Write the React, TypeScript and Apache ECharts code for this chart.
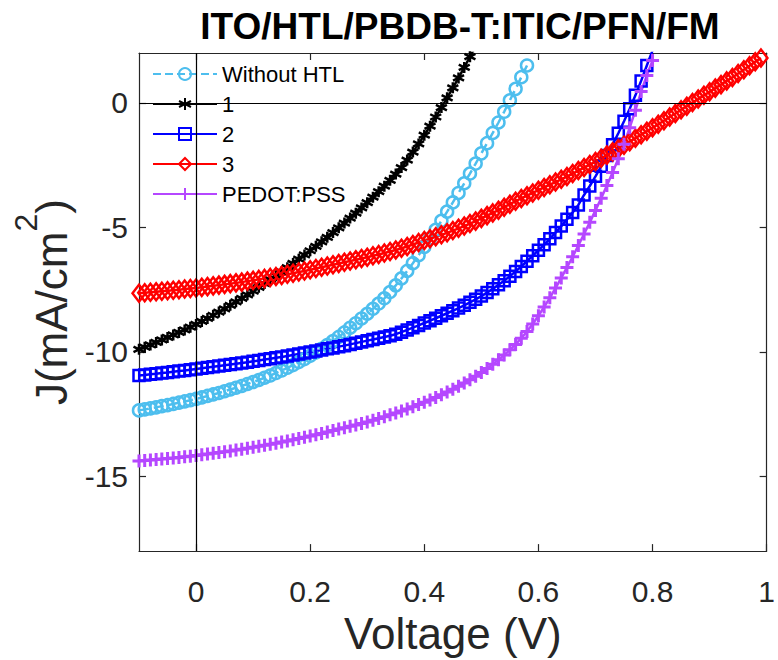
import React, { useEffect, useRef } from "react";
import * as echarts from "echarts";

// Voltage sweep (V)
const VOLTAGE = [
  -0.1, -0.09, -0.08, -0.07, -0.06, -0.05, -0.04, -0.03, -0.02, -0.01,
  0.0, 0.01, 0.02, 0.03, 0.04, 0.05, 0.06, 0.07, 0.08, 0.09,
  0.1, 0.11, 0.12, 0.13, 0.14, 0.15, 0.16, 0.17, 0.18, 0.19,
  0.2, 0.21, 0.22, 0.23, 0.24, 0.25, 0.26, 0.27, 0.28, 0.29,
  0.3, 0.31, 0.32, 0.33, 0.34, 0.35, 0.36, 0.37, 0.38, 0.39,
  0.4, 0.41, 0.42, 0.43, 0.44, 0.45, 0.46, 0.47, 0.48, 0.49,
  0.5, 0.51, 0.52, 0.53, 0.54, 0.55, 0.56, 0.57, 0.58, 0.59,
  0.6, 0.61, 0.62, 0.63, 0.64, 0.65, 0.66, 0.67, 0.68, 0.69,
  0.7, 0.71, 0.72, 0.73, 0.74, 0.75, 0.76, 0.77, 0.78, 0.79,
  0.8, 0.81, 0.82, 0.83, 0.84, 0.85, 0.86, 0.87, 0.88, 0.89,
  0.9, 0.91, 0.92, 0.93, 0.94, 0.95, 0.96, 0.97, 0.98, 0.99,
  1.0,
];

// Current density J (mA/cm^2), one value per voltage step
const J_WITHOUT_HTL = [
  -12.35, -12.31, -12.27, -12.23, -12.18, -12.14, -12.09, -12.04, -11.99, -11.94,
  -11.89, -11.83, -11.77, -11.71, -11.65, -11.58, -11.51, -11.44, -11.37, -11.29,
  -11.21, -11.13, -11.04, -10.95, -10.85, -10.75, -10.64, -10.53, -10.41, -10.29,
  -10.16, -10.02, -9.88, -9.73, -9.57, -9.4, -9.22, -9.03, -8.85, -8.66,
  -8.47, -8.27, -8.06, -7.85, -7.6, -7.33, -7.05, -6.75, -6.44, -6.12,
  -5.79, -5.45, -5.1, -4.74, -4.37, -4.0, -3.62, -3.23, -2.84, -2.44,
  -2.03, -1.62, -1.21, -0.79, -0.36, 0.1, 0.56, 1.03, 1.5,
];

const J_1 = [
  -9.9, -9.81, -9.72, -9.62, -9.52, -9.42, -9.32, -9.22, -9.12, -9.01,
  -8.9, -8.78, -8.66, -8.53, -8.4, -8.27, -8.13, -7.99, -7.85, -7.71,
  -7.56, -7.41, -7.26, -7.1, -6.94, -6.78, -6.62, -6.45, -6.28, -6.11,
  -5.94, -5.76, -5.58, -5.4, -5.21, -5.02, -4.83, -4.63, -4.43, -4.22,
  -4.01, -3.79, -3.57, -3.35, -3.11, -2.86, -2.6, -2.3, -1.98, -1.65,
  -1.3, -0.94, -0.57, -0.19, 0.2, 0.6, 1.0, 1.42, 1.85, 2.28,
];

const J_2 = [
  -10.95, -10.93, -10.9, -10.88, -10.85, -10.83, -10.8, -10.77, -10.75, -10.72,
  -10.69, -10.66, -10.63, -10.6, -10.57, -10.54, -10.51, -10.48, -10.45, -10.42,
  -10.38, -10.35, -10.31, -10.28, -10.24, -10.21, -10.17, -10.13, -10.09, -10.05,
  -10.01, -9.97, -9.93, -9.88, -9.84, -9.79, -9.75, -9.7, -9.65, -9.6,
  -9.55, -9.5, -9.45, -9.4, -9.35, -9.29, -9.21, -9.12, -9.03, -8.94,
  -8.84, -8.75, -8.65, -8.55, -8.45, -8.35, -8.24, -8.13, -8.01, -7.89,
  -7.76, -7.62, -7.47, -7.31, -7.14, -6.96, -6.77, -6.57, -6.36, -6.14,
  -5.92, -5.7, -5.46, -5.21, -4.95, -4.68, -4.4, -4.1, -3.7, -3.34,
  -2.95, -2.55, -2.12, -1.68, -1.22, -0.74, -0.24, 0.3, 0.88, 1.5,
  2.1,
];

const J_3 = [
  -7.65, -7.63, -7.61, -7.59, -7.57, -7.55, -7.53, -7.51, -7.48, -7.46,
  -7.44, -7.41, -7.38, -7.35, -7.32, -7.29, -7.26, -7.23, -7.2, -7.16,
  -7.13, -7.09, -7.05, -7.01, -6.97, -6.93, -6.88, -6.84, -6.79, -6.75,
  -6.7, -6.65, -6.6, -6.55, -6.5, -6.45, -6.4, -6.35, -6.3, -6.25,
  -6.2, -6.14, -6.09, -6.03, -5.97, -5.91, -5.84, -5.77, -5.69, -5.61,
  -5.53, -5.46, -5.38, -5.3, -5.22, -5.13, -5.04, -4.95, -4.85, -4.75,
  -4.64, -4.53, -4.42, -4.31, -4.19, -4.07, -3.95, -3.84, -3.73, -3.62,
  -3.51, -3.4, -3.29, -3.18, -3.07, -2.96, -2.84, -2.72, -2.6, -2.48,
  -2.36, -2.23, -2.1, -1.97, -1.84, -1.7, -1.56, -1.42, -1.28, -1.14,
  -1.0, -0.86, -0.72, -0.57, -0.43, -0.28, -0.14, 0.01, 0.15, 0.3,
  0.44, 0.59, 0.73, 0.88, 1.02, 1.18, 1.33, 1.49, 1.65, 1.8,
];

const J_PEDOT = [
  -14.38, -14.36, -14.34, -14.32, -14.3, -14.28, -14.26, -14.24, -14.21, -14.19,
  -14.16, -14.13, -14.1, -14.07, -14.04, -14.01, -13.98, -13.94, -13.91, -13.87,
  -13.83, -13.79, -13.75, -13.71, -13.67, -13.62, -13.58, -13.53, -13.48, -13.43,
  -13.38, -13.33, -13.28, -13.22, -13.16, -13.1, -13.05, -12.99, -12.94, -12.88,
  -12.82, -12.75, -12.68, -12.61, -12.53, -12.45, -12.37, -12.29, -12.2, -12.11,
  -12.02, -11.93, -11.83, -11.72, -11.61, -11.5, -11.38, -11.25, -11.12, -10.98,
  -10.83, -10.67, -10.5, -10.32, -10.13, -9.92, -9.7, -9.45, -9.18, -8.88,
  -8.55, -8.2, -7.83, -7.44, -7.03, -6.61, -6.18, -5.73, -5.27, -4.8,
  -4.32, -3.83, -3.32, -2.8, -2.25, -1.66, -1.0, -0.3, 0.45, 1.1,
  1.7,
];

const SERIES_NAMES = ["Without HTL", "1", "2", "3", "PEDOT:PSS"];
const X_TICKS = [0, 0.2, 0.4, 0.6, 0.8, 1];
const Y_TICKS = [-15, -10, -5, 0];

const FONT = "'Liberation Sans', Arial, Helvetica, sans-serif";
const AXIS_COLOR = "#262626";

const ASTERISK = "path://M5,0 L5,10 M0.67,2.5 L9.33,7.5 M0.67,7.5 L9.33,2.5";
const PLUS = "path://M5,0 L5,10 M0,5 L10,5";

function pairs(j: number[]) {
  return j.map((v, i) => [VOLTAGE[i], v]);
}

export default function App() {
  const ref = useRef<HTMLDivElement>(null);

  useEffect(() => {
    if (!ref.current) return;
    const chart = echarts.init(ref.current, undefined, { renderer: "svg" });

    const mkSeries = (
      name: string,
      data: number[],
      color: string,
      symbol: string,
      symbolSize: any,
      borderWidth: number,
      dashed = false,
      extra: any = {}
    ) => ({
      type: "line",
      name,
      data: pairs(data),
      symbol,
      symbolSize,
      showSymbol: true,
      clip: true,
      lineStyle: { color, width: 2.5, type: dashed ? "dashed" : "solid" },
      itemStyle: { color: "rgba(0,0,0,0)", borderColor: color, borderWidth },
      emphasis: { disabled: true },
      ...extra,
    });

    const axisLineStyle = { color: AXIS_COLOR, width: 1.2 };

    const option: any = {
      animation: false,
      backgroundColor: "#ffffff",
      title: {
        text: "ITO/HTL/PBDB-T:ITIC/PFN/FM",
        left: 455,
        top: 3,
        textAlign: "center",
        textStyle: { fontSize: 37, fontWeight: "bold", color: "#000", fontFamily: FONT },
      },
      legend: {
        orient: "vertical",
        left: 147,
        top: 58,
        itemWidth: 64,
        itemHeight: 15,
        itemGap: 8,
        data: SERIES_NAMES,
        textStyle: { fontSize: 22, lineHeight: 22, color: "#000", fontFamily: FONT },
      },
      grid: { left: 139, right: 5, top: 53, bottom: 105, containLabel: false },
      xAxis: [
        {
          type: "value",
          min: -0.1,
          max: 1,
          position: "bottom",
          axisLine: { show: true, onZero: false, lineStyle: axisLineStyle },
          axisTick: { show: true, inside: true, length: 7, customValues: X_TICKS, lineStyle: axisLineStyle },
          axisLabel: {
            customValues: X_TICKS,
            formatter: (v: number) => String(v),
            fontSize: 30,
            color: AXIS_COLOR,
            margin: 25,
            fontFamily: FONT,
          },
          splitLine: { show: false },
          name: "Voltage (V)",
          nameLocation: "middle",
          nameGap: 46,
          nameTextStyle: { fontSize: 44, color: AXIS_COLOR, fontFamily: FONT },
        },
        {
          type: "value",
          min: -0.1,
          max: 1,
          position: "top",
          axisLine: { show: true, onZero: false, lineStyle: axisLineStyle },
          axisTick: { show: true, inside: true, length: 7, customValues: X_TICKS, lineStyle: axisLineStyle },
          axisLabel: { show: false },
          splitLine: { show: false },
        },
      ],
      yAxis: [
        {
          type: "value",
          min: -18,
          max: 2,
          position: "left",
          axisLine: { show: true, onZero: false, lineStyle: axisLineStyle },
          axisTick: { show: true, inside: true, length: 7, customValues: Y_TICKS, lineStyle: axisLineStyle },
          axisLabel: {
            customValues: Y_TICKS,
            formatter: (v: number) => String(v),
            fontSize: 30,
            color: AXIS_COLOR,
            margin: 11,
            fontFamily: FONT,
          },
          splitLine: { show: false },
          name: "{a|J(mA/cm}{s|2}{a|)}",
          nameLocation: "middle",
          nameGap: 62,
          nameRotate: 90,
          nameTextStyle: {
            color: AXIS_COLOR,
            fontFamily: FONT,
            rich: {
              a: { fontSize: 44, lineHeight: 64, verticalAlign: "bottom", color: AXIS_COLOR, fontFamily: FONT },
              s: { fontSize: 32, lineHeight: 32, verticalAlign: "top", color: AXIS_COLOR, fontFamily: FONT },
            },
          },
        },
        {
          type: "value",
          min: -18,
          max: 2,
          position: "right",
          axisLine: { show: true, onZero: false, lineStyle: axisLineStyle },
          axisTick: { show: true, inside: true, length: 7, customValues: Y_TICKS, lineStyle: axisLineStyle },
          axisLabel: { show: false },
          splitLine: { show: false },
        },
      ],
      series: [
        mkSeries(SERIES_NAMES[0], J_WITHOUT_HTL, "#4DBEEE", "circle", 12, 2.5, true),
        mkSeries(SERIES_NAMES[1], J_1, "#000000", ASTERISK, 11, 2.5),
        mkSeries(SERIES_NAMES[2], J_2, "#0000FF", "rect", 11, 2.5),
        mkSeries(SERIES_NAMES[3], J_3, "#FF0000", "diamond", [13, 17], 2.5),
        mkSeries(SERIES_NAMES[4], J_PEDOT, "#B547FF", PLUS, 13, 3, false, {
          markLine: {
            silent: true,
            symbol: ["none", "none"],
            label: { show: false },
            lineStyle: { color: "#000", width: 1.2, type: "solid" },
            emphasis: { disabled: true },
            data: [{ xAxis: 0 }, { yAxis: 0 }],
          },
        }),
      ],
    };

    chart.setOption(option);
    return () => chart.dispose();
  }, []);

  return (
    <div
      ref={ref}
      style={{ position: "fixed", left: 0, top: 0, width: 778, height: 660, background: "#fff" }}
    />
  );
}
